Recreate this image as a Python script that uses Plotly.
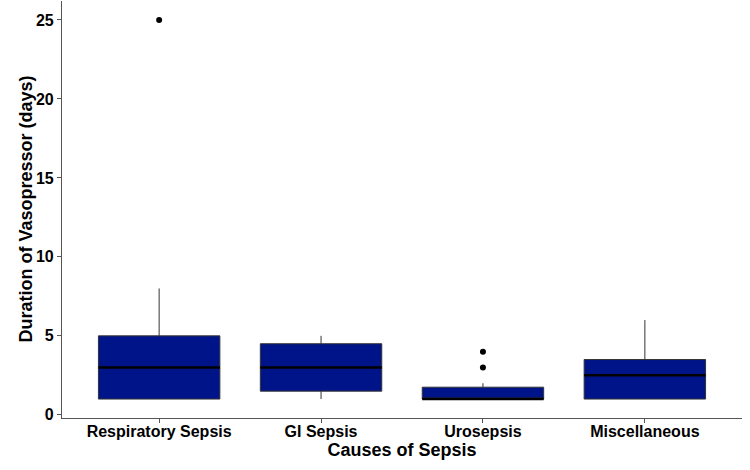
import plotly.graph_objects as go

categories = ["Respiratory Sepsis", "GI Sepsis", "Urosepsis", "Miscellaneous"]
q1 = [1, 1.5, 1, 1]
median = [3, 3, 1, 2.5]
q3 = [5, 4.5, 1.75, 3.5]
lower = [1, 1, 1, 1]
upper = [8, 5, 2, 6]
outlier_cat = ["Respiratory Sepsis", "Urosepsis", "Urosepsis"]
outlier_val = [25, 3, 4]

fill = "#001489"
fig = go.Figure()
fig.add_trace(go.Box(
    x=categories, q1=q1, median=median, q3=q3,
    lowerfence=lower, upperfence=upper,
    fillcolor=fill, line=dict(color="#333333", width=1),
    whiskerwidth=0, width=0.75,
    boxpoints=False, showlegend=False, hoverinfo="skip",
))
fig.add_trace(go.Scatter(
    x=outlier_cat, y=outlier_val, mode="markers",
    marker=dict(color="black", size=6), showlegend=False,
))
half = 0.375
for i, m in enumerate(median):
    fig.add_shape(type="line", xref="x", yref="y",
                  x0=i - half, x1=i + half, y0=m, y1=m,
                  line=dict(color="black", width=2.5))

font_bold = "Liberation Sans"
fig.update_layout(
    width=750, height=470,
    margin=dict(l=62, r=8, t=1, b=52),
    plot_bgcolor="white", paper_bgcolor="white",
    font=dict(family=font_bold, color="black"),
)
fig.add_annotation(
    text="Duration of Vasopressor (days)", textangle=-90,
    xref="paper", yref="paper", x=0, y=0.5, xanchor="center", yanchor="middle",
    xshift=-37, showarrow=False, font=dict(size=18, weight="bold", family=font_bold),
)
fig.update_xaxes(
    categoryorder="array", categoryarray=categories,
    range=[-0.6, 3.6],
    showline=True, linecolor="#555555", linewidth=1.2,
    ticks="outside", ticklen=4, tickcolor="#555555",
    ticklabelstandoff=-5,
    tickfont=dict(size=16, family=font_bold, weight="bold"),
    title=dict(text="Causes of Sepsis", font=dict(size=18, weight="bold"), standoff=2),
    showgrid=False, zeroline=False,
)
fig.update_yaxes(
    range=[-0.2, 26.2],
    tickvals=[0, 5, 10, 15, 20, 25],
    showline=True, linecolor="#555555", linewidth=1.2,
    ticks="outside", ticklen=4, tickcolor="#555555",
    tickfont=dict(size=16, family=font_bold, weight="bold"),
    showgrid=False, zeroline=False,
)
fig.write_html("out.html")
